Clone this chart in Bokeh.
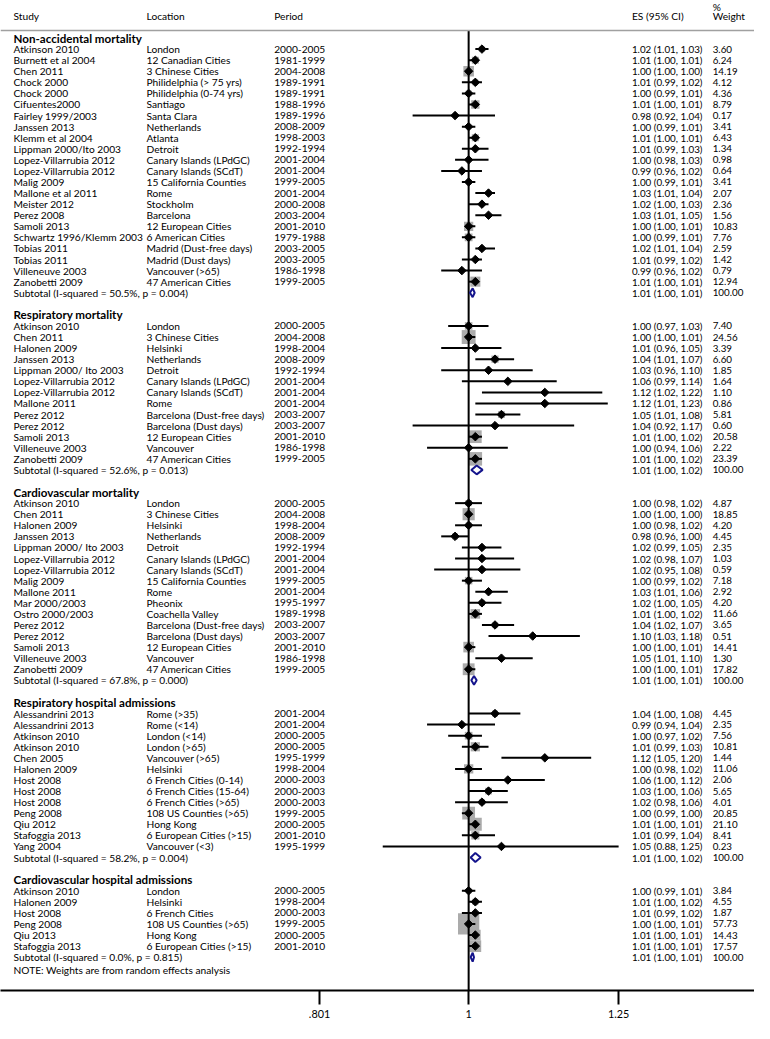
import math
from bokeh.plotting import figure
from bokeh.models import Range1d, LinearScale, FixedTicker, Span, ColumnDataSource
from bokeh.core.properties import value
from bokeh.embed import file_html
from bokeh.resources import INLINE

# ---------------- data ----------------
s1_title = "Non-accidental mortality"
s1_study = ["Atkinson 2010", "Burnett et al 2004", "Chen 2011", "Chock 2000", "Chock 2000", "Cifuentes2000",
            "Fairley 1999/2003", "Janssen 2013", "Klemm et al 2004", "Lippman 2000/Ito 2003",
            "Lopez-Villarrubia 2012", "Lopez-Villarrubia 2012", "Malig 2009", "Mallone et al 2011",
            "Meister 2012", "Perez 2008", "Samoli 2013", "Schwartz 1996/Klemm 2003", "Tobias 2011",
            "Tobias 2011", "Villeneuve 2003", "Zanobetti 2009"]
s1_loc = ["London", "12 Canadian Cities", "3 Chinese Cities", "Philidelphia (> 75 yrs)", "Philidelphia (0-74 yrs)",
          "Santiago", "Santa Clara", "Netherlands", "Atlanta", "Detroit", "Canary Islands (LPdGC)",
          "Canary Islands (SCdT)", "15 California Counties", "Rome", "Stockholm", "Barcelona",
          "12 European Cities", "6 American Cities", "Madrid (Dust-free days)", "Madrid (Dust days)",
          "Vancouver (>65)", "47 American Cities"]
s1_period = ["2000-2005", "1981-1999", "2004-2008", "1989-1991", "1989-1991", "1988-1996", "1989-1996",
             "2008-2009", "1998-2003", "1992-1994", "2001-2004", "2001-2004", "1999-2005", "2001-2004",
             "2000-2008", "2003-2004", "2001-2010", "1979-1988", "2003-2005", "2003-2005", "1986-1998",
             "1999-2005"]
s1_es = [1.02, 1.01, 1.00, 1.01, 1.00, 1.01, 0.98, 1.00, 1.01, 1.01, 1.00, 0.99, 1.00, 1.03, 1.02, 1.03,
         1.00, 1.00, 1.02, 1.01, 0.99, 1.01]
s1_lo = [1.01, 1.00, 1.00, 0.99, 0.99, 1.00, 0.92, 0.99, 1.00, 0.99, 0.98, 0.96, 0.99, 1.01, 1.00, 1.01,
         1.00, 0.99, 1.01, 0.99, 0.96, 1.00]
s1_hi = [1.03, 1.01, 1.00, 1.02, 1.01, 1.01, 1.04, 1.01, 1.01, 1.03, 1.03, 1.02, 1.01, 1.04, 1.03, 1.05,
         1.01, 1.01, 1.04, 1.02, 1.02, 1.01]
s1_wt = [3.60, 6.24, 14.19, 4.12, 4.36, 8.79, 0.17, 3.41, 6.43, 1.34, 0.98, 0.64, 3.41, 2.07, 2.36, 1.56,
         10.83, 7.76, 2.59, 1.42, 0.79, 12.94]
s1_sub = ["Subtotal  (I-squared = 50.5%, p = 0.004)", 1.006, 1.002, 1.009]

s2_title = "Respiratory mortality"
s2_study = ["Atkinson 2010", "Chen 2011", "Halonen 2009", "Janssen 2013", "Lippman 2000/ Ito 2003",
            "Lopez-Villarrubia 2012", "Lopez-Villarrubia 2012", "Mallone 2011", "Perez 2012", "Perez 2012",
            "Samoli 2013", "Villeneuve 2003", "Zanobetti 2009"]
s2_loc = ["London", "3 Chinese Cities", "Helsinki", "Netherlands", "Detroit", "Canary Islands (LPdGC)",
          "Canary Islands (SCdT)", "Rome", "Barcelona (Dust-free days)", "Barcelona (Dust days)",
          "12 European Cities", "Vancouver", "47 American Cities"]
s2_period = ["2000-2005", "2004-2008", "1998-2004", "2008-2009", "1992-1994", "2001-2004", "2001-2004",
             "2001-2004", "2003-2007", "2003-2007", "2001-2010", "1986-1998", "1999-2005"]
s2_es = [1.00, 1.00, 1.01, 1.04, 1.03, 1.06, 1.12, 1.12, 1.05, 1.04, 1.01, 1.00, 1.01]
s2_lo = [0.97, 1.00, 0.96, 1.01, 0.96, 0.99, 1.02, 1.01, 1.01, 0.92, 1.00, 0.94, 1.00]
s2_hi = [1.03, 1.01, 1.05, 1.07, 1.10, 1.14, 1.22, 1.23, 1.08, 1.17, 1.02, 1.06, 1.02]
s2_wt = [7.40, 24.56, 3.39, 6.60, 1.85, 1.64, 1.10, 0.86, 5.81, 0.60, 20.58, 2.22, 23.39]
s2_sub = ["Subtotal  (I-squared = 52.6%, p = 0.013)", 1.012, 1.004, 1.021]

s3_title = "Cardiovascular mortality"
s3_study = ["Atkinson 2010", "Chen 2011", "Halonen 2009", "Janssen 2013", "Lippman 2000/ Ito 2003",
            "Lopez-Villarrubia 2012", "Lopez-Villarrubia 2012", "Malig 2009", "Mallone 2011", "Mar 2000/2003",
            "Ostro 2000/2003", "Perez 2012", "Perez 2012", "Samoli 2013", "Villeneuve 2003", "Zanobetti 2009"]
s3_loc = ["London", "3 Chinese Cities", "Helsinki", "Netherlands", "Detroit", "Canary Islands (LPdGC)",
          "Canary Islands (SCdT)", "15 California Counties", "Rome", "Pheonix", "Coachella Valley",
          "Barcelona (Dust-free days)", "Barcelona (Dust days)", "12 European Cities", "Vancouver",
          "47 American Cities"]
s3_period = ["2000-2005", "2004-2008", "1998-2004", "2008-2009", "1992-1994", "2001-2004", "2001-2004",
             "1999-2005", "2001-2004", "1995-1997", "1989-1998", "2003-2007", "2003-2007", "2001-2010",
             "1986-1998", "1999-2005"]
s3_es = [1.00, 1.00, 1.00, 0.98, 1.02, 1.02, 1.02, 1.00, 1.03, 1.02, 1.01, 1.04, 1.10, 1.00, 1.05, 1.00]
s3_lo = [0.98, 1.00, 0.98, 0.96, 0.99, 0.98, 0.95, 0.99, 1.01, 1.00, 1.00, 1.02, 1.03, 1.00, 1.01, 1.00]
s3_hi = [1.02, 1.00, 1.02, 1.00, 1.05, 1.07, 1.08, 1.02, 1.06, 1.05, 1.02, 1.07, 1.18, 1.01, 1.10, 1.01]
s3_wt = [4.87, 18.85, 4.20, 4.45, 2.35, 1.03, 0.59, 7.18, 2.92, 4.20, 11.66, 3.65, 0.51, 14.41, 1.30, 17.82]
s3_sub = ["Subtotal  (I-squared = 67.8%, p = 0.000)", 1.008, 1.004, 1.012]

s4_title = "Respiratory hospital admissions"
s4_study = ["Alessandrini 2013", "Alessandrini 2013", "Atkinson  2010", "Atkinson 2010", "Chen 2005",
            "Halonen 2009", "Host 2008", "Host 2008", "Host 2008", "Peng 2008", "Qiu 2012", "Stafoggia 2013",
            "Yang 2004"]
s4_loc = ["Rome (>35)", "Rome (<14)", "London (<14)", "London (>65)", "Vancouver (>65)", "Helsinki",
          "6 French Cities (0-14)", "6 French Cities (15-64)", "6 French Cities (>65)", "108 US Counties (>65)",
          "Hong Kong", "6 European Cities (>15)", "Vancouver (<3)"]
s4_period = ["2001-2004", "2001-2004", "2000-2005", "2000-2005", "1995-1999", "1998-2004", "2000-2003",
             "2000-2003", "2000-2003", "1999-2005", "2000-2005", "2001-2010", "1995-1999"]
s4_es = [1.04, 0.99, 1.00, 1.01, 1.12, 1.00, 1.06, 1.03, 1.02, 1.00, 1.01, 1.01, 1.05]
s4_lo = [1.00, 0.94, 0.97, 0.99, 1.05, 0.98, 1.00, 1.00, 0.98, 0.99, 1.00, 0.99, 0.88]
s4_hi = [1.08, 1.04, 1.02, 1.03, 1.20, 1.02, 1.12, 1.06, 1.06, 1.00, 1.01, 1.04, 1.25]
s4_wt = [4.45, 2.35, 7.56, 10.81, 1.44, 11.06, 2.06, 5.65, 4.01, 20.85, 21.10, 8.41, 0.23]
s4_sub = ["Subtotal  (I-squared = 58.2%, p = 0.004)", 1.010, 1.003, 1.018]

s5_title = "Cardiovascular hospital admissions"
s5_study = ["Atkinson 2010", "Halonen 2009", "Host 2008", "Peng 2008", "Qiu 2013", "Stafoggia 2013"]
s5_loc = ["London", "Helsinki", "6 French Cities", "108 US Counties (>65)", "Hong Kong", "6 European Cities (>15)"]
s5_period = ["2000-2005", "1998-2004", "2000-2003", "1999-2005", "2000-2005", "2001-2010"]
s5_es = [1.00, 1.01, 1.01, 1.00, 1.01, 1.01]
s5_lo = [0.99, 1.00, 0.99, 1.00, 1.00, 1.00]
s5_hi = [1.01, 1.02, 1.02, 1.01, 1.01, 1.01]
s5_wt = [3.84, 4.55, 1.87, 57.73, 14.43, 17.57]
s5_sub = ["Subtotal  (I-squared = 0.0%, p = 0.815)", 1.006, 1.003, 1.008]

note_text = "NOTE: Weights are from random effects analysis"
tick_vals = [0.801, 1, 1.25]
tick_labels = [".801", "1", "1.25"]

sections = [
    (s1_title, s1_study, s1_loc, s1_period, s1_es, s1_lo, s1_hi, s1_wt, s1_sub),
    (s2_title, s2_study, s2_loc, s2_period, s2_es, s2_lo, s2_hi, s2_wt, s2_sub),
    (s3_title, s3_study, s3_loc, s3_period, s3_es, s3_lo, s3_hi, s3_wt, s3_sub),
    (s4_title, s4_study, s4_loc, s4_period, s4_es, s4_lo, s4_hi, s4_wt, s4_sub),
    (s5_title, s5_study, s5_loc, s5_period, s5_es, s5_lo, s5_hi, s5_wt, s5_sub),
]

# ---------------- layout ----------------
S = 0.98
W, H = 754, 1023
X1_REF, PX_LN_REF = 477.7, 685.8
x_start = math.exp(-X1_REF / PX_LN_REF)
x_end = math.exp((W / S - X1_REF) / PX_LN_REF)
pitch = 11.3 * S
row0_y = 38.3 * S
FH = round(1010 * S)
y_top = -row0_y / pitch
y_bot = (FH - row0_y) / pitch


def row_of(ref_y):
    return (ref_y * S - row0_y) / pitch


FONT = "Lato"
FS = "10.2px"
FS_NUM = "9.8px"
FS_BOLD = "11.6px"
XC = [13.3 * S, 149 * S, 279.3 * S, 644.3 * S, 726.7 * S]

p = figure(width=W, height=H, x_axis_type="log",
           x_range=Range1d(x_start, x_end), y_range=Range1d(y_bot, y_top),
           y_axis_location=None, toolbar_location=None, output_backend="svg",
           min_border_left=0, min_border_right=0, min_border_top=0, min_border_bottom=H - FH,
           outline_line_color=None, background_fill_color="white", border_fill_color="white")
p.extra_x_ranges = {"px": Range1d(0, W)}
p.extra_x_scales = {"px": LinearScale()}
p.xgrid.visible = False
p.ygrid.visible = False

# assemble rows
st_row, st_es, st_lo, st_hi, st_wt = [], [], [], [], []
txt_x, txt_y, txt_t = [], [], []
num_x, num_y, num_t = [], [], []
bold_x, bold_y, bold_t = [], [], []
sub_xs, sub_ys = [], []
row = 0
last_sub = 0
for title, study, loc, period, es, lo, hi, wt, sub in sections:
    bold_x.append(XC[0]); bold_y.append(row); bold_t.append(title)
    row += 1
    for i in range(len(study)):
        st_row.append(row); st_es.append(es[i]); st_lo.append(lo[i]); st_hi.append(hi[i]); st_wt.append(wt[i])
        for c, t in zip(XC[:3], [study[i], loc[i], period[i]]):
            txt_x.append(c); txt_y.append(row); txt_t.append(t)
        for c, t in zip(XC[3:], [f"{es[i]:.2f} ({lo[i]:.2f}, {hi[i]:.2f})", f"{wt[i]:.2f}"]):
            num_x.append(c); num_y.append(row); num_t.append(t)
        row += 1
    label, ses, slo, shi = sub
    txt_x.append(XC[0]); txt_y.append(row); txt_t.append(label)
    for c, t in zip(XC[3:], [f"{ses:.2f} ({slo:.2f}, {shi:.2f})", "100.00"]):
        num_x.append(c); num_y.append(row); num_t.append(t)
    h = 0.4
    sub_xs.append([slo, ses, shi, ses])
    sub_ys.append([row, row - h, row, row + h])
    last_sub = row
    row += 2

txt_x.append(XC[0]); txt_y.append(last_sub + 1.2); txt_t.append(note_text)

# header
hy = row_of(16)
for c, t in zip(XC, ["Study", "Location", "Period", "ES (95% CI)", "Weight"]):
    txt_x.append(c); txt_y.append(hy); txt_t.append(t)
txt_x.append(XC[4]); txt_y.append(row_of(7)); txt_t.append("%")

p.add_layout(Span(location=row_of(30.7), dimension="width", line_color="#a0a0a0", line_width=1.5))

# boxes
box = ColumnDataSource(dict(x=st_es, y=st_row, s=[2.8 * math.sqrt(w) for w in st_wt]))
p.scatter("x", "y", size="s", source=box, marker="square", fill_color="#ababab", line_color=None)

# null line
p.segment(x0=[1], x1=[1], y0=[row_of(30.7)], y1=[y_bot], line_color="black", line_width=2)

# CIs
ci = ColumnDataSource(dict(lo=st_lo, hi=st_hi, y=st_row, es=st_es))
p.segment(x0="lo", x1="hi", y0="y", y1="y", source=ci, line_color="black", line_width=2)
p.scatter("es", "y", source=ci, marker="square", angle=math.pi / 4, size=6,
          fill_color="black", line_color="black")

# subtotal diamonds
p.patches(xs=sub_xs, ys=sub_ys, fill_color=None, line_color="#14148c", line_width=2)

# texts
ts = ColumnDataSource(dict(x=txt_x, y=txt_y, t=txt_t))
p.text("x", "y", text="t", source=ts, x_range_name="px", text_font=value(FONT),
       text_font_size=value(FS), text_baseline="middle", text_align="left", text_color="black")
ns = ColumnDataSource(dict(x=num_x, y=num_y, t=num_t))
p.text("x", "y", text="t", source=ns, x_range_name="px", text_font=value(FONT),
       text_font_size=value(FS_NUM), text_baseline="middle", text_align="left", text_color="black")
bs = ColumnDataSource(dict(x=bold_x, y=bold_y, t=bold_t))
p.text("x", "y", text="t", source=bs, x_range_name="px", text_font=value(FONT),
       text_font_size=value(FS_BOLD), text_font_style="bold", text_baseline="middle",
       text_align="left", text_color="black")

# axis
ax = p.xaxis[0]
ax.ticker = FixedTicker(ticks=tick_vals)
ax.major_label_overrides = {v: l for v, l in zip(tick_vals, tick_labels)}
ax.axis_line_width = 2
ax.axis_line_color = "black"
ax.major_tick_line_width = 2
ax.major_tick_line_color = "black"
ax.major_tick_out = 14
ax.major_tick_in = 0
ax.minor_tick_line_color = None
ax.major_label_standoff = 5
ax.major_label_text_font = FONT
ax.major_label_text_font_size = "10.8px"
ax.major_label_text_color = "black"

open("out.html", "w").write(file_html(p, INLINE))
